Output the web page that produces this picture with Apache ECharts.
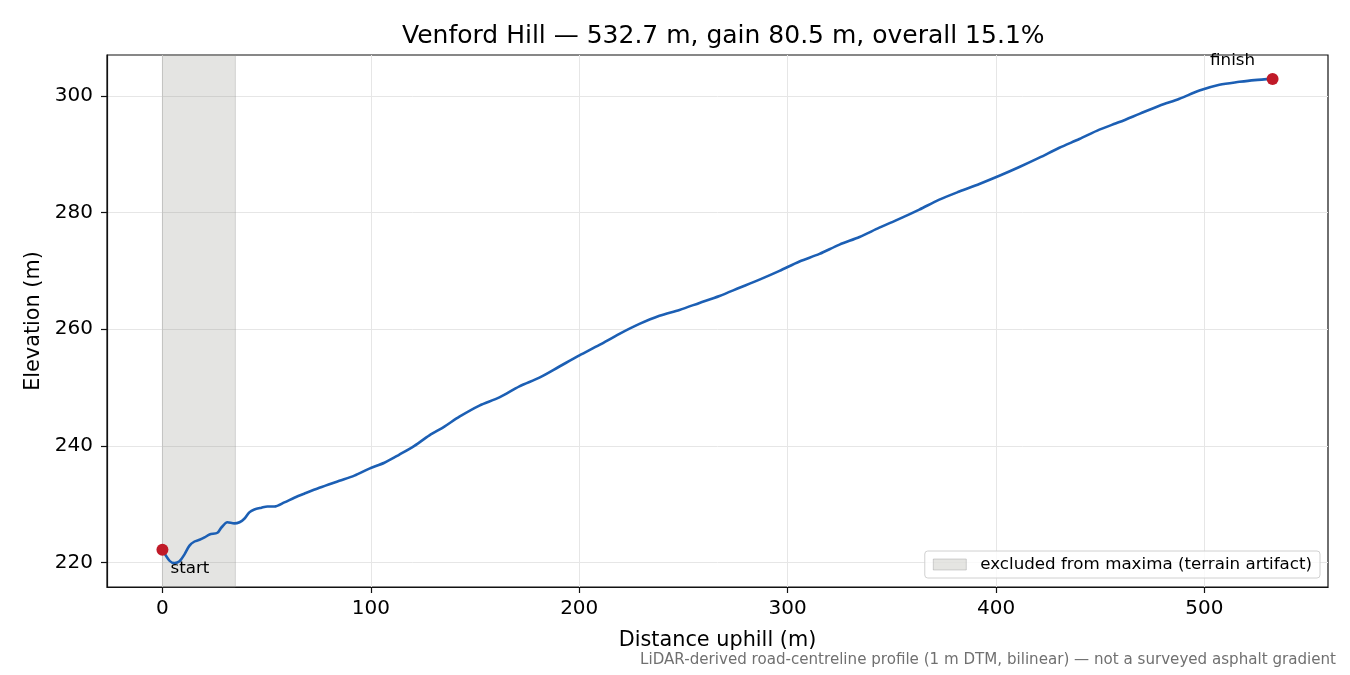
<!DOCTYPE html>
<html style="height: 100%">
<head>
<meta charset="utf-8">
<script src="https://cdn.jsdelivr.net/npm/echarts@6/dist/echarts.min.js"></script>
</head>
<body style="height: 100%; margin: 0">
<div id="container" style="width:1350px; height:675px"></div>
<script>
// profile: distance (m), elevation (m)
var distance = [0, 3.4, 5.8, 8.2, 10.6, 13, 15.4, 17.8, 20.2, 22.6, 26.4, 28.3, 31.2, 34.5, 37, 39.3, 41.7, 44.1, 47.5, 50.4, 53.7,
  58.5, 63.3, 68.1, 75.3, 84.9, 92.1, 99.3, 106.5, 113.7, 120.9, 128.1, 135.3, 142.5, 152.1, 161.7, 171.3, 180.9, 190.5,
  200.1, 209.7, 219.3, 228.9, 238.5, 248.1, 257.7, 267.3, 276.9, 286.5, 296.1, 305.7, 315.3, 324.9, 334.5, 344, 353.6,
  363.2, 372.8, 382.4, 392, 401.6, 411.2, 420.8, 430.4, 440, 449.6, 459.2, 468.8, 478.4, 488, 497.6, 507.2, 516.8, 524, 532.7];
var elevation = [222.2, 220.3, 219.9, 220.2, 221.4, 222.9, 223.6, 223.9, 224.3, 224.8, 225.1, 226.0, 226.9, 226.7, 226.9, 227.5, 228.6, 229.1, 229.4, 229.6, 229.6,
  230.3, 231.1, 231.8, 232.8, 234.0, 234.9, 236.1, 237.1, 238.5, 240.0, 241.8, 243.3, 245.0, 246.9, 248.3, 250.2, 251.7, 253.6,
  255.5, 257.3, 259.2, 260.9, 262.3, 263.3, 264.5, 265.7, 267.1, 268.5, 270.0, 271.6, 272.9, 274.5, 275.8, 277.4, 278.9,
  280.5, 282.2, 283.6, 284.9, 286.3, 287.8, 289.4, 291.1, 292.6, 294.2, 295.5, 296.9, 298.3, 299.5, 300.9, 301.9, 302.4, 302.7, 302.9];
var excludedSpan = [0, 35];
var xTicks = [0, 100, 200, 300, 400, 500];
var yTicks = [220, 240, 260, 280, 300];
var legendName = 'excluded from maxima (terrain artifact)';

var dom = document.getElementById('container');
var myChart = echarts.init(dom);
var profile = [];
for (var i = 0; i < distance.length; i++) {
  profile.push([distance[i], elevation[i]]);
}
var last = profile.length - 1;
var font = 'DejaVu Sans';

var option = {
  animation: false,
  textStyle: { fontFamily: font },
  title: {
    text: 'Venford Hill \u2014 532.7 m, gain 80.5 m, overall 15.1%',
    left: 397, top: 19,
    textStyle: { fontFamily: font, fontSize: 25, fontWeight: 'normal', color: '#000' }
  },
  legend: {
    right: 30, bottom: 97,
    data: [{ name: legendName, icon: 'rect', itemStyle: { color: 'rgba(150,150,140,0.25)', borderColor: 'rgba(150,150,150,0.4)', borderWidth: 1 } }],
    itemWidth: 33, itemHeight: 11,
    padding: [5, 8, 5, 8],
    borderColor: '#d0d0d0', borderWidth: 1, borderRadius: 3,
    backgroundColor: 'rgba(255,255,255,0.8)',
    textStyle: { fontFamily: font, fontSize: 16.7, color: '#000', padding: [0, 0, 0, 9] }
  },
  grid: { left: 107, right: 22, top: 55, bottom: 88, show: true, borderColor: '#111', borderWidth: 1.2, backgroundColor: 'transparent' },
  xAxis: {
    type: 'value', min: -26.6, max: 559.3,
    name: 'Distance uphill (m)', nameLocation: 'middle', nameGap: 43,
    nameTextStyle: { fontFamily: font, fontSize: 20.8, color: '#000' },
    axisLine: { onZero: false, lineStyle: { color: '#111', width: 1.2 } },
    axisTick: { show: true, length: 6, lineStyle: { color: '#111', width: 1.2 }, customValues: xTicks },
    axisLabel: { fontFamily: font, fontSize: 20, color: '#000', margin: 12, customValues: xTicks },
    splitLine: { show: true, lineStyle: { color: '#e6e6e6', width: 1 } }
  },
  yAxis: {
    type: 'value', min: 215.8, max: 307,
    name: 'Elevation (m)', nameLocation: 'middle', nameGap: 61,
    nameTextStyle: { fontFamily: font, fontSize: 20.8, color: '#000' },
    axisLine: { show: true, onZero: false, lineStyle: { color: '#111', width: 1.2 } },
    axisTick: { show: true, length: 6, lineStyle: { color: '#111', width: 1.2 }, customValues: yTicks },
    axisLabel: { fontFamily: font, fontSize: 20, color: '#000', margin: 14, customValues: yTicks },
    splitLine: { show: true, lineStyle: { color: '#e6e6e6', width: 1 } }
  },
  series: [
    {
      name: legendName, type: 'line', data: [], silent: true,
      itemStyle: { color: 'rgba(150,150,140,0.25)' },
      markArea: {
        silent: true,
        itemStyle: { color: 'rgba(140,140,130,0.23)', borderColor: 'rgba(150,150,150,0.35)', borderWidth: 1 },
        data: [[{ xAxis: excludedSpan[0] }, { xAxis: excludedSpan[1] }]]
      }
    },
    {
      name: 'profile', type: 'line', data: profile, showSymbol: false, smooth: 0.3,
      lineStyle: { color: '#1c5fb4', width: 2.6 }, z: 3
    },
    {
      name: 'ends', type: 'scatter', symbolSize: 12, z: 4,
      itemStyle: { color: '#c01a28', opacity: 1 },
      data: [
        { value: profile[0], label: { show: true, formatter: 'start', position: [14, 16], align: 'left', verticalAlign: 'top', fontFamily: font, fontSize: 16.7, color: '#000' } },
        { value: profile[last], label: { show: true, formatter: 'finish', position: [-34, -21], align: 'center', verticalAlign: 'top', fontFamily: font, fontSize: 16.7, color: '#000' } }
      ]
    }
  ],
  graphic: [{
    type: 'text', right: 14, top: 653,
    style: {
      text: 'LiDAR-derived road-centreline profile (1 m DTM, bilinear) \u2014 not a surveyed asphalt gradient',
      fontFamily: font, fontSize: 15.1, fill: '#707070'
    }
  }]
};
myChart.setOption(option);
</script>
</body>
</html>
